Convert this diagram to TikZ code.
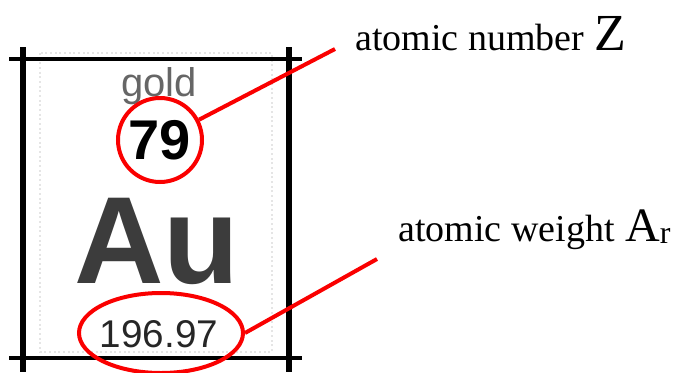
\documentclass[tikz,border=0pt]{standalone}
\usepackage{fontspec}
\setmainfont{Liberation Serif}
\newfontfamily\cellfont{Liberation Sans}
\usetikzlibrary{shapes.geometric}

\definecolor{ringred}{RGB}{250,0,0}
\definecolor{symbgray}{RGB}{60,60,60}

\tikzset{
  frame/.style={line width=3pt, black},
  post/.style={line width=4.5pt, black},
  ring/.style={draw=ringred, line width=3pt, inner sep=0pt},
  leader/.style={ringred, line width=3pt},
  callout/.style={anchor=base west, inner sep=0pt, font=\fontsize{28.5}{31}\selectfont}
}

\begin{document}
\begin{tikzpicture}[x=0.75pt, y=-0.75pt]
    \useasboundingbox (0,0) rectangle (678,372);
    \clip (0,0) rectangle (678,372);
    % faint grid of the cell
    \draw[gray!20, dotted, line width=1.5pt] (40,53) rectangle (272,352);
    % cell borders
    \draw[frame] (9,59) -- (302,59);
    \draw[frame] (9,358) -- (302,358);
    \draw[post] (23,47) -- (23,372);
    \draw[post] (289,47) -- (289,372);
    % cell contents
    \node[anchor=base, inner sep=0pt, text=gray!80!black, font=\cellfont\fontsize{30}{30}\selectfont] (name) at (159,96) {gold};
    \node[ring, circle, minimum size=63pt, font=\cellfont\bfseries\fontsize{42}{42}\selectfont] (zring) at (160,140) {79};
    \node[anchor=base, inner sep=0pt, text=symbgray, font=\cellfont\bfseries\fontsize{93}{93}\selectfont] (symbol) at (157,283) {Au};
    \node[ring, ellipse, minimum width=123pt, minimum height=60pt] (aring) at (161,333) {};
    \node[inner sep=0pt, text=black!85, font=\cellfont\fontsize{29}{29}\selectfont] (weight) at (159,334) {196.97};
    % callouts
    \node[callout] (zlabel) at (355,50) {atomic number\hspace{8pt}{\fontsize{39}{39}\selectfont Z}};
    \node[callout] (alabel) at (398,241) {atomic weight\hspace{8pt}{\fontsize{36}{36}\selectfont A}{\fontsize{24}{24}\selectfont\raisebox{-2pt}{r}}};
    \coordinate (zend) at (335,49);
    \coordinate (aend) at (377,259);
    \draw[leader] (zring) -- (zend);
    \draw[leader] (aring.east) -- (aend);
\end{tikzpicture}
\end{document}
